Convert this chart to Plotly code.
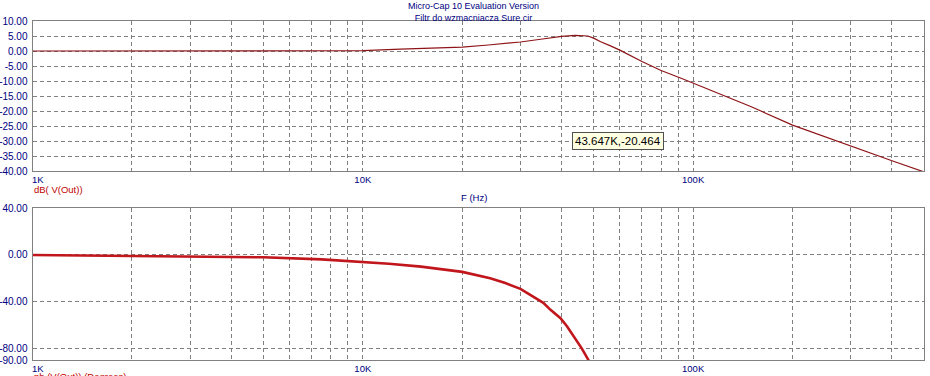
import math
import plotly.graph_objects as go

# ---- data ----
mag_freq = [1000, 2000, 5000, 8400, 10000, 13000, 16000, 20000, 24000, 26000, 30000,
            35000, 40000, 44000, 48000, 50000, 52500, 56000, 60000, 70000, 80000,
            92000, 100000, 150000, 200000, 300000, 400000, 500000]
mag_db = [0.0, 0.0, 0.0, 0.0, 0.1, 0.6, 1.0, 1.3, 2.0, 2.3, 3.0,
          4.0, 4.9, 5.2, 5.0, 4.3, 3.1, 1.8, 0.3, -3.5, -6.5,
          -9.1, -10.7, -18.6, -24.7, -31.8, -36.6, -40.3]

ph_freq = [1000, 2500, 5000, 7500, 10000, 12000, 15000, 17000, 20000, 24300, 27000,
           30000, 32000, 35200, 37000, 39600, 41500, 43400, 46000, 48200, 52000]
ph_deg = [0.0, -0.8, -2.0, -3.8, -6.0, -7.5, -10.0, -11.8, -14.5, -20.0, -24.0,
          -29.0, -34.0, -41.0, -47.0, -54.0, -61.0, -69.0, -80.0, -90.0, -110.0]

x_major = [1000, 10000, 100000, 500000]
x_major_text = ["\u00a0\u00a0\u00a0\u00a01K", "10K", "100K", "500K"]
x_minor = [2000, 3000, 4000, 5000, 6000, 7000, 8000, 9000,
           20000, 30000, 40000, 50000, 60000, 70000, 80000, 90000,
           200000, 300000, 400000]

top_yticks = [10, 5, 0, -5, -10, -15, -20, -25, -30, -35, -40]
bot_yticks = [40, 0, -40, -80, -90]

title_lines = ["Micro-Cap 10 Evaluation Version", "Filtr do wzmacniacza Sure.cir"]
top_label = "dB( V(Out))"
bot_label = "ph (V(Out)) (Degrees)"
x_title = "F (Hz)"
marker_text = "43.647K,-20.464"

# ---- styling ----
W, H = 930, 376
FONT = "Liberation Sans"
NAVY = "#00007f"
GRID = "#808080"
DASH = "4px,3px"

def py(p):
    return 1 - p / H

fig = go.Figure()
fig.add_trace(go.Scatter(x=mag_freq, y=mag_db, mode="lines",
                         line=dict(color="#8e1418", width=1.2),
                         xaxis="x", yaxis="y", showlegend=False, hoverinfo="skip"))
fig.add_trace(go.Scatter(x=ph_freq, y=ph_deg, mode="lines",
                         line=dict(color="#c0161c", width=2.6),
                         xaxis="x2", yaxis="y2", showlegend=False, hoverinfo="skip"))

xdom = [32.5 / W, 924 / W]

def xaxis_cfg(anchor):
    return dict(type="log", range=[3, math.log10(500000)], domain=xdom, anchor=anchor,
                tickmode="array", tickvals=x_major, ticktext=x_major_text,
                showgrid=True, gridcolor=GRID, griddash=DASH, gridwidth=1,
                minor=dict(tickmode="array", tickvals=x_minor, showgrid=True,
                           gridcolor=GRID, griddash=DASH, gridwidth=1, ticks=""),
                ticks="", ticklabelstandoff=0, automargin=False,
                showline=True, mirror=True, linecolor=GRID, linewidth=1,
                tickfont=dict(family=FONT, size=9.5, color=NAVY),
                zeroline=False, fixedrange=True)

def yaxis_cfg(anchor, dom, rng, ticks, fmt_vals):
    return dict(domain=dom, range=rng, anchor=anchor,
                tickmode="array", tickvals=ticks, ticktext=fmt_vals,
                showgrid=True, gridcolor=GRID, griddash=DASH, gridwidth=1,
                ticks="", ticklabelstandoff=2, automargin=False,
                showline=True, mirror=True, linecolor=GRID, linewidth=1,
                tickfont=dict(family=FONT, size=10, color=NAVY),
                zeroline=False, fixedrange=True)

fig.update_layout(
    width=W, height=H, margin=dict(l=0, r=0, t=0, b=0, autoexpand=False),
    paper_bgcolor="white", plot_bgcolor="white",
    xaxis=xaxis_cfg("y"),
    xaxis2=xaxis_cfg("y2"),
    yaxis=yaxis_cfg("x", [py(171), py(21)], [-40, 10], top_yticks,
                    ["%.2f" % v for v in top_yticks]),
    yaxis2=yaxis_cfg("x2", [py(360), py(208.3)], [-90, 40], bot_yticks,
                     ["%.2f" % v for v in bot_yticks]),
)

ann = [
    dict(text="<br>".join(title_lines), x=474 / W, y=py(-0.5), xanchor="center",
         yanchor="top", align="center",
         font=dict(family=FONT, size=9, color=NAVY)),
    dict(text=top_label, x=33 / W, y=py(183), xanchor="left", yanchor="top",
         font=dict(family=FONT, size=9.5, color="#c00000")),
    dict(text=x_title, x=474 / W, y=py(197), xanchor="center", yanchor="middle",
         font=dict(family=FONT, size=9.5, color=NAVY)),
    dict(text=bot_label, x=33 / W, y=py(369.5), xanchor="left", yanchor="top",
         font=dict(family=FONT, size=9.5, color="#c00000")),
]
for a in ann:
    a.update(xref="paper", yref="paper", showarrow=False, borderpad=0)

ann.append(dict(text=marker_text, xref="x", yref="y",
                x=math.log10(59400), y=-30, xanchor="center", yanchor="middle",
                showarrow=False, bgcolor="#ffffe1", bordercolor="#505050",
                borderwidth=1, borderpad=2,
                font=dict(family=FONT, size=11.5, color="black")))
fig.update_layout(annotations=ann)

fig.write_html("out.html")
